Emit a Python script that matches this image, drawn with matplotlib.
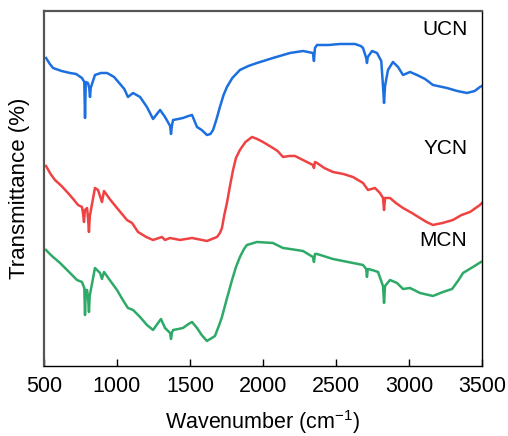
import matplotlib.pyplot as plt

plt.rcParams['font.family'] = ['Liberation Sans', 'DejaVu Sans']
plt.rcParams['mathtext.fontset'] = 'custom'
plt.rcParams['mathtext.rm'] = 'Liberation Sans'
plt.rcParams['mathtext.default'] = 'regular'

# FTIR spectra (offset, arbitrary transmittance units)
ucn_wn = [514, 540, 562, 620, 678, 720, 760, 776, 781, 786, 801, 810, 815, 820, 849, 890,
          932, 980, 1021, 1050, 1075, 1110, 1158, 1205, 1247, 1295, 1329, 1364, 1370, 1376,
          1384, 1420, 1452, 1490, 1514, 1548, 1580, 1616, 1640, 1658, 1680, 1705, 1730,
          1753, 1790, 1842, 1900, 1959, 2068, 2185, 2274, 2342, 2349, 2356, 2370, 2450,
          2527, 2630, 2670, 2685, 2707, 2712, 2718, 2747, 2781, 2810, 2822, 2829, 2836,
          2856, 2890, 2925, 2959, 3007, 3055, 3110, 3164, 3260, 3330, 3397, 3450, 3486, 3500]
ucn_t = [308, 302, 298, 295, 293, 292, 288, 284, 248, 284, 283, 278, 269, 278, 291, 293,
         293, 289, 282, 277, 269, 273, 269, 259, 247, 256, 249, 240, 232, 240,
         246, 247, 248, 250, 251, 239, 236, 231, 232, 236, 246, 259, 271,
         279, 288, 296, 300, 303, 308, 313, 315, 313, 305, 318, 321, 321,
         322, 322, 320, 318, 308, 303, 309, 315, 313, 305, 280, 263, 280,
         296, 304, 299, 291, 294, 291, 287, 281, 278, 275, 273, 275, 279, 280]

ycn_wn = [514, 545, 575, 620, 658, 700, 733, 760, 768, 774, 780, 795, 802, 808, 814, 849,
          870, 897, 911, 950, 1000, 1040, 1068, 1103, 1144, 1200, 1247, 1308, 1329, 1363,
          1432, 1514, 1616, 1685, 1705, 1719, 1735, 1753, 1775, 1795, 1815, 1842, 1880,
          1925, 1960, 2000, 2068, 2100, 2137, 2180, 2219, 2260, 2301, 2342, 2349, 2356,
          2370, 2420, 2479, 2550, 2616, 2685, 2719, 2767, 2801, 2822, 2829, 2836, 2870,
          2910, 2959, 3020, 3075, 3120, 3164, 3230, 3301, 3360, 3418, 3486, 3500]
ycn_t = [200, 192, 186, 180, 174, 167, 161, 159, 152, 144, 156, 158, 147, 134, 150, 178,
         176, 164, 175, 167, 158, 151, 146, 143, 134, 129, 126, 129, 126, 128,
         126, 128, 125, 129, 133, 138, 151, 163, 181, 196, 208, 216, 224,
         229, 227, 224, 218, 215, 209, 210, 210, 207, 204, 201, 198, 204,
         203, 198, 194, 192, 189, 183, 176, 178, 173, 168, 156, 168, 168,
         163, 158, 153, 148, 144, 141, 143, 146, 151, 154, 161, 163]

mcn_wn = [514, 540, 562, 610, 658, 726, 760, 776, 781, 786, 795, 803, 808, 813, 849, 884,
          897, 911, 950, 1000, 1040, 1075, 1110, 1158, 1205, 1247, 1301, 1329, 1364, 1370,
          1376, 1384, 1420, 1452, 1490, 1514, 1548, 1580, 1616, 1650, 1671, 1700, 1719,
          1750, 1788, 1815, 1842, 1870, 1890, 1959, 2068, 2137, 2185, 2274, 2342, 2349,
          2356, 2370, 2479, 2616, 2685, 2707, 2712, 2718, 2747, 2788, 2822, 2829, 2836,
          2870, 2918, 2959, 3007, 3075, 3164, 3233, 3295, 3340, 3370, 3438, 3493]
mcn_t = [116, 112, 109, 103, 96, 86, 84, 78, 51, 76, 76, 66, 54, 70, 98, 93,
         87, 94, 86, 76, 66, 58, 56, 49, 41, 36, 47, 38, 33, 27,
         33, 36, 37, 38, 42, 44, 38, 31, 25, 28, 30, 41, 49,
         66, 86, 99, 109, 117, 121, 124, 123, 118, 117, 115, 109, 104,
         112, 112, 107, 103, 101, 97, 89, 97, 96, 94, 80, 63, 80,
         86, 83, 77, 78, 73, 70, 74, 77, 86, 93, 99, 104]

labels = ['UCN', 'YCN', 'MCN']
label_y = [336, 217, 125]
colors = ['#1c6fdf', '#ef4242', '#2eaa68']

fig = plt.figure(figsize=(5.08, 4.36), dpi=100)
ax = fig.add_axes([0.0866, 0.1606, 0.8622, 0.8142])

for wn, t, c in zip([ucn_wn, ycn_wn, mcn_wn], [ucn_t, ycn_t, mcn_t], colors):
    ax.plot(wn, t, color=c, linewidth=1.8)

for name, y in zip(labels, label_y):
    ax.text(3400, y, name, fontsize=15, ha='right', va='center')

ax.set_xlim(500, 3500)
ax.set_ylim(0, 355)
ax.set_xticks([500, 1000, 1500, 2000, 2500, 3000, 3500])
ax.set_yticks([])
ax.tick_params(axis='x', direction='in', length=5, width=1, labelsize=15.5, pad=7)
ax.set_xlabel('Wavenumber (cm$^{-1}$)', fontsize=15.5, labelpad=8)
ax.set_ylabel('Transmittance (%)', fontsize=16, labelpad=10)

for side in ['left', 'top']:
    ax.spines[side].set_color('#555555')
    ax.spines[side].set_linewidth(1.6)
for side in ['bottom', 'right']:
    ax.spines[side].set_color('black')
    ax.spines[side].set_linewidth(1.0)

fig.savefig('out.png', dpi=100)
